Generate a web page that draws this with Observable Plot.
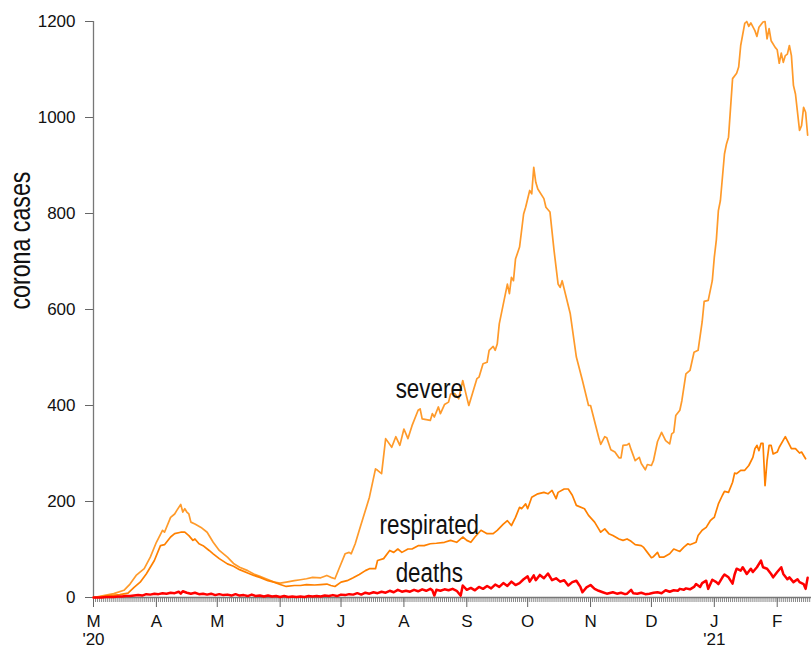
<!DOCTYPE html>
<html><head><meta charset="utf-8">
<script src="https://cdn.jsdelivr.net/npm/d3@7"></script>
<script src="https://cdn.jsdelivr.net/npm/@observablehq/plot@0.6"></script>
<style>body{margin:0;background:#fff}svg{display:block}</style>
</head><body><div id="chart"></div>
<script>
// day offsets from 2020-03-01 and values
const severe = [[0,0],[5,4],[10,8],[15,15],[18,28],[21,46],[25,60],[28,84],[31,115],[34,140],[35,136],[38,167],[40,174],[41,181],[43,194],[44,178],[45,185],[46,178],[47,174],[48,157],[50,153],[53,146],[56,136],[59,115],[62,98],[66,84],[69,71],[72,63],[76,56],[79,49],[82,44],[85,39],[89,32],[92,30],[95,32],[99,35],[102,37],[105,39],[108,42],[112,41],[115,46],[117,42],[119,39],[121,60],[124,91],[126,94],[127,91],[129,112],[131,140],[134,181],[136,209],[139,268],[140,265],[142,258],[144,331],[147,313],[149,335],[151,317],[153,351],[155,331],[157,358],[160,390],[161,393],[162,372],[166,369],[167,383],[168,376],[170,397],[171,383],[173,402],[175,407],[176,424],[178,425],[180,414],[182,452],[184,417],[185,400],[189,456],[190,459],[192,487],[194,490],[195,515],[197,523],[198,515],[199,528],[200,570],[204,653],[205,633],[206,667],[207,660],[208,705],[210,730],[212,799],[213,813],[215,848],[216,841],[217,896],[218,865],[219,851],[222,831],[223,813],[225,803],[227,723],[229,653],[230,646],[231,660],[235,591],[238,501],[241,452],[244,400],[245,400],[249,334],[250,319],[252,335],[253,333],[255,308],[257,303],[259,291],[260,291],[261,317],[263,318],[264,321],[265,308],[267,285],[269,292],[270,279],[272,266],[273,277],[275,275],[276,285],[278,325],[280,344],[282,327],[284,320],[285,341],[286,344],[287,379],[289,390],[290,410],[292,466],[294,473],[296,511],[298,515],[300,574],[301,617],[303,619],[305,660],[306,709],[307,745],[308,806],[309,827],[311,924],[312,945],[313,959],[315,1081],[317,1092],[318,1105],[319,1150],[321,1196],[322,1200],[323,1190],[324,1197],[326,1181],[327,1169],[328,1188],[330,1199],[331,1200],[332,1164],[333,1185],[334,1160],[336,1146],[337,1141],[338,1113],[339,1134],[340,1115],[341,1129],[342,1132],[343,1150],[344,1129],[345,1067],[346,1049],[348,973],[349,983],[350,1021],[351,1011],[352,963]];
const respirated = [[0,0],[8,4],[13,6],[17,9],[20,21],[23,32],[26,49],[30,77],[33,108],[35,110],[38,126],[40,133],[43,136],[45,136],[47,129],[49,119],[50,122],[52,112],[54,108],[57,98],[59,91],[62,81],[66,70],[69,65],[72,58],[76,51],[79,46],[82,42],[86,35],[89,32],[92,27],[95,23],[99,25],[102,25],[105,27],[109,26],[112,27],[115,28],[117,25],[119,23],[122,32],[125,35],[128,41],[131,48],[134,56],[136,60],[139,60],[140,77],[143,81],[146,98],[148,94],[150,101],[152,94],[155,101],[157,101],[160,108],[163,108],[166,112],[169,113],[173,115],[176,119],[179,115],[182,126],[184,119],[186,115],[188,126],[191,140],[194,133],[197,133],[199,140],[202,153],[204,160],[206,150],[208,167],[210,188],[211,185],[213,195],[214,185],[216,209],[219,216],[222,219],[224,216],[226,223],[228,206],[229,219],[232,226],[234,226],[236,213],[238,192],[242,185],[244,171],[247,157],[249,143],[250,136],[252,143],[254,133],[256,129],[259,122],[261,119],[263,122],[265,117],[267,110],[270,108],[271,105],[273,94],[275,83],[276,85],[278,94],[279,84],[281,84],[284,91],[286,101],[289,96],[291,105],[293,112],[294,110],[297,115],[298,129],[300,140],[302,146],[304,160],[305,164],[306,167],[308,195],[310,213],[311,221],[313,219],[315,240],[316,259],[317,258],[319,265],[321,265],[323,275],[325,292],[326,310],[327,317],[328,306],[329,321],[330,321],[331,233],[332,285],[333,317],[334,317],[335,299],[337,303],[338,313],[341,335],[342,327],[344,310],[346,310],[348,301],[349,303],[351,289]];
const deaths = [[0,0],[2,0],[4,0],[6,1],[8,1],[10,1],[12,2],[14,2],[16,3],[18,3],[20,4],[22,5],[24,4],[26,7],[28,6],[30,8],[32,7],[34,9],[36,8],[38,10],[40,9],[42,12],[43,8],[44,13],[46,10],[48,8],[50,10],[52,7],[54,8],[56,6],[58,8],[60,5],[62,7],[64,5],[66,6],[68,4],[70,7],[72,4],[74,5],[76,3],[78,6],[80,3],[82,4],[84,2],[86,4],[88,2],[90,3],[92,1],[94,3],[96,1],[98,2],[100,1],[102,2],[104,1],[106,3],[108,2],[110,3],[112,2],[114,4],[116,3],[118,5],[120,3],[122,6],[124,5],[126,7],[128,6],[130,9],[132,6],[134,10],[136,8],[138,11],[140,9],[142,12],[144,10],[146,14],[148,11],[150,16],[152,12],[154,14],[156,12],[158,16],[160,13],[162,17],[164,14],[166,18],[167,15],[168,4],[169,16],[171,14],[173,17],[175,15],[177,18],[179,14],[181,4],[182,25],[184,16],[186,20],[188,15],[190,22],[192,18],[194,24],[196,19],[198,27],[200,22],[202,30],[204,24],[206,33],[208,26],[210,30],[212,38],[214,44],[215,33],[217,46],[218,36],[220,47],[222,40],[224,50],[226,36],[228,40],[230,33],[232,36],[234,25],[236,32],[238,35],[240,22],[241,11],[243,21],[245,26],[247,18],[249,14],[251,11],[253,8],[255,10],[256,11],[258,8],[260,10],[262,7],[263,8],[265,16],[266,9],[268,8],[270,10],[272,7],[274,8],[276,10],[278,11],[280,9],[282,15],[284,12],[286,15],[288,14],[289,18],[291,16],[292,19],[294,17],[296,22],[297,28],[299,22],[300,30],[302,35],[303,18],[305,37],[307,32],[308,28],[310,42],[311,48],[313,42],[315,29],[316,48],[317,60],[319,56],[320,63],[322,49],[324,60],[325,53],[327,63],[329,77],[330,63],[332,60],[334,49],[335,42],[337,53],[339,63],[340,49],[342,38],[343,42],[345,32],[347,38],[348,32],[350,28],[351,18],[352,41]];

const seriesNames = ["severe", "respirated", "deaths"];
const seriesColors = ["#ff9a2a", "#ff8000", "#ff0000"];
const labelValues = [434, 151, 50];
const labelDay = 165.5;
const yTicks = [0, 200, 400, 600, 800, 1000, 1200];
const monthLetters = ["J","F","M","A","M","J","J","A","S","O","N","D"];
const yLabel = "corona cases";

const t0 = Date.UTC(2020, 2, 1);
const toDate = d => new Date(t0 + d * 864e5);
const endDate = toDate(353.9);

const rows = [];
[severe, respirated, deaths].forEach((arr, i) =>
  arr.forEach(([d, v]) => rows.push({date: toDate(d), value: v, series: seriesNames[i]})));

const monthTicks = d3.utcMonth.range(toDate(0), endDate);
const dayTicks = d3.utcDay.range(toDate(0), endDate);
const fmt = d => {
  const m = d.getUTCMonth();
  const first = +d === +monthTicks[0] || m === 0;
  return monthLetters[m] + (first ? "\n'" + String(d.getUTCFullYear()).slice(2) : "");
};
const labels = seriesNames.map((s, i) => ({date: toDate(labelDay), value: labelValues[i], text: s}));
const font = "'Liberation Sans', Arial, sans-serif";

const chart = Plot.plot({
  width: 811, height: 648,
  marginTop: 21, marginBottom: 51, marginLeft: 93, marginRight: 0,
  style: {fontFamily: font, fontSize: "17px", background: "#fff", color: "#111", overflow: "visible"},
  x: {type: "utc", domain: [toDate(0), endDate]},
  y: {domain: [0, 1200]},
  marks: [
    Plot.axisX({ticks: dayTicks, tickSize: 5, tickFormat: () => "", stroke: "#888", label: null}),
    Plot.axisX({ticks: monthTicks, tickSize: 10, tickPadding: 6, tickFormat: fmt, stroke: "#666", fill: "#111", fontSize: 17, label: null, lineHeight: 1.1}),
    Plot.axisY({ticks: yTicks, tickSize: 8, tickPadding: 10, tickFormat: d => String(d), stroke: "#666", fill: "#111", fontSize: 17, label: null}),
    Plot.ruleX([toDate(0)], {stroke: "#777", strokeWidth: 1.3}),
    Plot.ruleY([0], {stroke: "#777", strokeWidth: 1.3}),
    Plot.text([yLabel], {frameAnchor: "left", dx: -73, rotate: -90, text: d => d, fontSize: 29, fill: "#111"}),
    Plot.line(rows, {x: "date", y: "value", z: "series",
      stroke: d => seriesColors[seriesNames.indexOf(d.series)],
      strokeWidth: d => d.series === "deaths" ? 2.5 : 1.7}),
    Plot.text(labels, {x: "date", y: "value", text: "text", fontSize: 28, fill: "#111", lineAnchor: "middle"})
  ]
});
// condense the label text horizontally (the reference uses a narrow face)
chart.querySelectorAll('g[aria-label="text"] text').forEach(t => {
  const tr = t.getAttribute("transform");
  if (tr) t.setAttribute("transform", tr + " scale(0.8,1)");
  else {
    const x = +t.getAttribute("x") || 0, y = +t.getAttribute("y") || 0;
    t.removeAttribute("x"); t.removeAttribute("y");
    t.setAttribute("transform", `translate(${x},${y}) scale(0.8,1)`);
  }
});
document.getElementById("chart").append(chart);
</script>
</body></html>
